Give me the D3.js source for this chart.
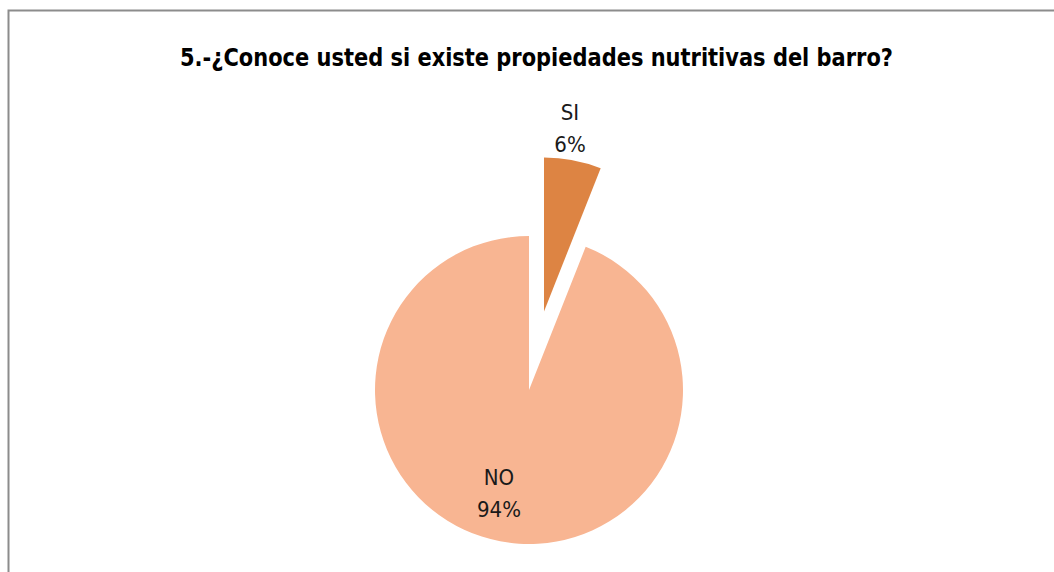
<!DOCTYPE html>
<html lang="es">
<head>
<meta charset="UTF-8">
<title>Propiedades nutritivas del barro</title>
<style>
  body { margin: 0; background: #fff; }
  text { font-family: "DejaVu Sans Condensed", "DejaVu Sans", sans-serif; }
</style>
</head>
<body>
<script src="https://d3js.org/d3.v7.min.js"></script>
<script>
const categories = ['SI', 'NO'];
const values = [6, 94];
const colors = ['#dd8443', '#f8b592'];
const title = '5.-¿Conoce usted si existe propiedades nutritivas del barro?';

const width = 1054, height = 572;
const cx = 529, cy = 390, r = 154;
const explode = 80;

const svg = d3.select('body').append('svg')
    .attr('width', width)
    .attr('height', height);

// chart frame
svg.append('rect')
    .attr('x', 8.5).attr('y', 10.5)
    .attr('width', width + 10).attr('height', height + 10)
    .attr('fill', 'none')
    .attr('stroke', '#8c8c8c')
    .attr('stroke-width', 2);

svg.append('text')
    .attr('x', 536.5).attr('y', 66)
    .attr('text-anchor', 'middle')
    .attr('font-size', 24)
    .attr('font-weight', 'bold')
    .attr('textLength', 713)
    .attr('lengthAdjust', 'spacingAndGlyphs')
    .attr('fill', '#000')
    .text(title);

const data = categories.map((c, i) => ({ cat: c, value: values[i], color: colors[i] }));

const pie = d3.pie().sort(null).value(d => d.value);
const arc = d3.arc().innerRadius(0).outerRadius(r);
const arcs = pie(data);

const g = svg.append('g').attr('transform', `translate(${cx},${cy})`);

function offset(d) {
    if (d.data.cat !== 'SI') return [0, 0];
    const a = (d.startAngle + d.endAngle) / 2;
    return [explode * Math.sin(a), -explode * Math.cos(a)];
}

g.selectAll('path')
    .data(arcs)
    .join('path')
    .attr('d', arc)
    .attr('transform', d => `translate(${offset(d)})`)
    .attr('fill', d => d.data.color);

// labels
const labelPos = {
    SI: [41, -270],
    NO: [-30, 95]
};

const lab = g.selectAll('g.lab')
    .data(arcs)
    .join('g')
    .attr('class', 'lab')
    .attr('transform', d => `translate(${labelPos[d.data.cat]})`);

lab.append('text')
    .attr('text-anchor', 'middle')
    .attr('font-size', 22)
    .attr('fill', '#1a1a1a')
    .text(d => d.data.cat);

lab.append('text')
    .attr('text-anchor', 'middle')
    .attr('y', 32)
    .attr('font-size', 22)
    .attr('fill', '#1a1a1a')
    .text(d => d.data.value + '%');
</script>
</body>
</html>
